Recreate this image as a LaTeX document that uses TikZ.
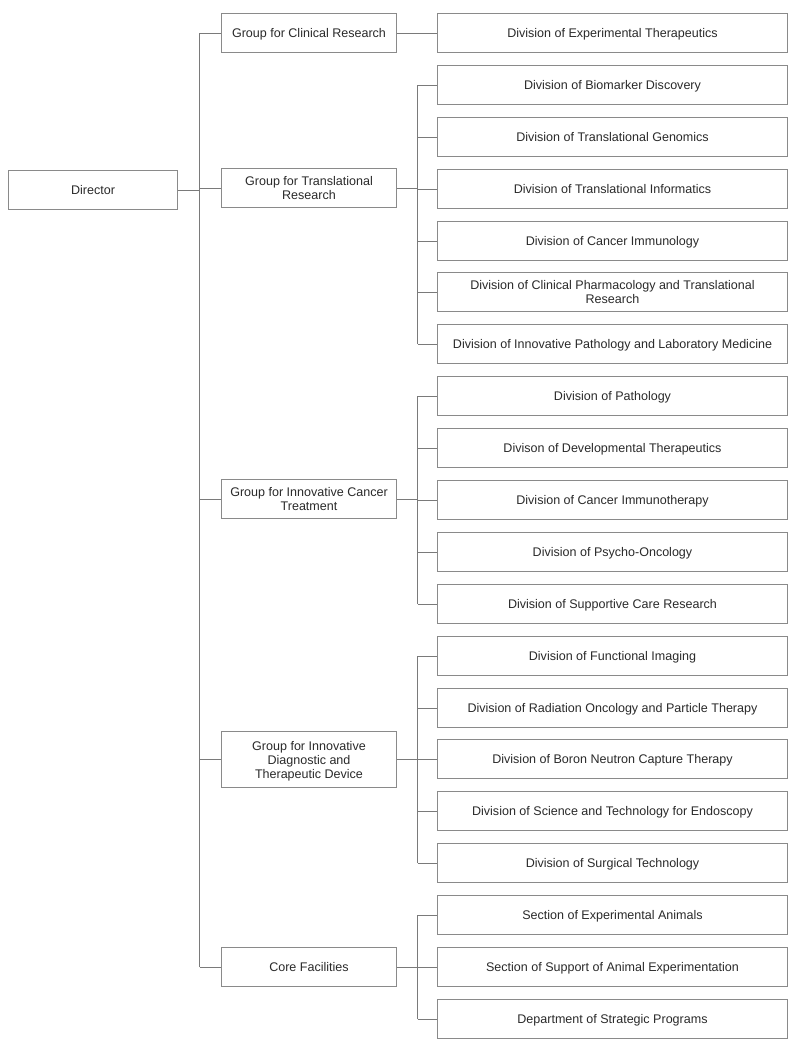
\documentclass[tikz,border=0pt]{standalone}
\usepackage{fontspec}
\setmainfont{Liberation Sans}
\begin{document}
\begin{tikzpicture}[x=0.75pt,y=-0.75pt,
  box/.style={draw=boxgray,line width=0.8pt,fill=white,inner sep=0pt,align=center,
    text=txt,font=\fontsize{9.4pt}{10.5pt}\selectfont},
  one/.style={text depth=0pt},
  dirbox/.style={box,minimum width=126.75pt,minimum height=29.25pt},
  grpbox/.style={box,minimum width=131.25pt,minimum height=29.25pt},
  divbox/.style={box,minimum width=262.5pt,minimum height=29.25pt},
  conn/.style={draw=linegray,line width=0.75pt}]
\definecolor{boxgray}{HTML}{8A8A8A}
\definecolor{linegray}{HTML}{7A7A7A}
\definecolor{txt}{HTML}{2A2A2A}
\useasboundingbox (0,0) rectangle (800,1051);
\fill[white] (0,0) rectangle (800,1051);

\node[dirbox,one] (dir) at (93,190) {Director};

\node[grpbox,one] (g1) at (309,33) {Group for Clinical Research};
\node[grpbox] (g2) at (309,188) {Group for Translational\\Research};
\node[grpbox] (g3) at (309,499) {Group for Innovative Cancer\\Treatment};
\node[grpbox,minimum height=42pt] (g4) at (309,759.5) {Group for Innovative\\Diagnostic and\\\smash{Therapeutic Device}};
\node[grpbox,one] (g5) at (309,967) {Core Facilities};

\node[divbox,one] (d1) at (612.5,33) {Division of Experimental Therapeutics};
\node[divbox,one] (d2) at (612.5,85) {Division of Biomarker Discovery};
\node[divbox,one] (d3) at (612.5,137) {Division of Translational Genomics};
\node[divbox,one] (d4) at (612.5,189) {Division of Translational Informatics};
\node[divbox,one] (d5) at (612.5,241) {Division of Cancer Immunology};
\node[divbox] (d6) at (612.5,292) {Division of Clinical Pharmacology and Translational\\Research};
\node[divbox,one] (d7) at (612.5,344) {Division of Innovative Pathology and Laboratory Medicine};
\node[divbox,one] (d8) at (612.5,396) {Division of Pathology};
\node[divbox,one] (d9) at (612.5,448) {Divison of Developmental Therapeutics};
\node[divbox,one] (d10) at (612.5,500) {Division of Cancer Immunotherapy};
\node[divbox,one] (d11) at (612.5,552) {Division of Psycho-Oncology};
\node[divbox,one] (d12) at (612.5,604) {Division of Supportive Care Research};
\node[divbox,one] (d13) at (612.5,656) {Division of Functional Imaging};
\node[divbox,one] (d14) at (612.5,708) {Division of Radiation Oncology and Particle Therapy};
\node[divbox,one] (d15) at (612.5,759) {Division of Boron Neutron Capture Therapy};
\node[divbox,one] (d16) at (612.5,811) {Division of Science and Technology for Endoscopy};
\node[divbox,one] (d17) at (612.5,863) {Division of Surgical Technology};
\node[divbox,one] (d18) at (612.5,915) {Section of Experimental Animals};
\node[divbox,one] (d19) at (612.5,967) {Section of Support of Animal Experimentation};
\node[divbox,one] (d20) at (612.5,1019) {Department of Strategic Programs};

% trunk from director
\coordinate (tk) at (199.5,0);
\draw[conn] (dir.east) -- (dir.east -| tk);
\draw[conn] (g1.west -| tk) -- (g5.west -| tk);
\foreach \g in {g1,g2,g3,g4,g5} \draw[conn] (\g.west -| tk) -- (\g.west);

% buses
\coordinate (bs) at (417.5,0);
\draw[conn] (g1.east) -- (d1.west);
\draw[conn] (g2.east) -- (g2.east -| bs);
\draw[conn] (d2.west -| bs) -- (d7.west -| bs);
\foreach \d in {d2,d3,d4,d5,d6,d7} \draw[conn] (\d.west -| bs) -- (\d.west);
\draw[conn] (g3.east) -- (g3.east -| bs);
\draw[conn] (d8.west -| bs) -- (d12.west -| bs);
\foreach \d in {d8,d9,d10,d11,d12} \draw[conn] (\d.west -| bs) -- (\d.west);
\draw[conn] (g4.east) -- (g4.east -| bs);
\draw[conn] (d13.west -| bs) -- (d17.west -| bs);
\foreach \d in {d13,d14,d15,d16,d17} \draw[conn] (\d.west -| bs) -- (\d.west);
\draw[conn] (g5.east) -- (g5.east -| bs);
\draw[conn] (d18.west -| bs) -- (d20.west -| bs);
\foreach \d in {d18,d19,d20} \draw[conn] (\d.west -| bs) -- (\d.west);
\end{tikzpicture}
\end{document}
